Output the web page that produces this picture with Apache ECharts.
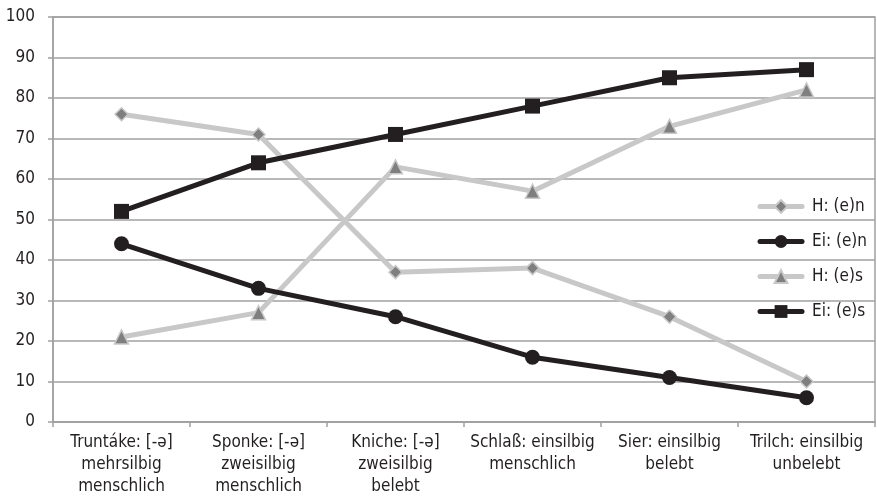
<!DOCTYPE html>
<html><head><meta charset="utf-8">
<script src="https://cdn.jsdelivr.net/npm/echarts@6/dist/echarts.min.js"></script>
<style>html,body{margin:0;padding:0;background:#fff}#c{width:877px;height:500px}</style>
</head><body><div id="c"></div>
<script>
const categories = [
  "Truntáke: [-ə]\nmehrsilbig\nmenschlich",
  "Sponke: [-ə]\nzweisilbig\nmenschlich",
  "Kniche: [-ə]\nzweisilbig\nbelebt",
  "Schlaß: einsilbig\nmenschlich",
  "Sier: einsilbig\nbelebt",
  "Trilch: einsilbig\nunbelebt"
];
const yTicks = [0,10,20,30,40,50,60,70,80,90,100];
const hEn = [76, 71, 37, 38, 26, 10];
const eiEn = [44, 33, 26, 16, 11, 6];
const hEs = [21, 27, 63, 57, 73, 82];
const eiEs = [52, 64, 71, 78, 85, 87];
const names = ["H: (e)n", "Ei: (e)n", "H: (e)s", "Ei: (e)s"];

const FONT = "DejaVu Sans Condensed";
const light = "#c8c8c8", dark = "#231f20", markGray = "#7f7f7f";
function lightSeries(name, data, symbol, size){
  return {name, type:'line', data, symbol, symbolSize:size, z:2,
    lineStyle:{color:light, width:5}, itemStyle:{color:markGray, borderColor:light, borderWidth:1.5},
    emphasis:{disabled:true}};
}
function darkSeries(name, data, symbol, size){
  return {name, type:'line', data, symbol, symbolSize:size, z:3,
    lineStyle:{color:dark, width:5}, itemStyle:{color:dark, borderWidth:0},
    emphasis:{disabled:true}};
}
const chart = echarts.init(document.getElementById('c'), null, {renderer:'canvas'});
chart.setOption({
  animation:false,
  textStyle:{fontFamily:FONT},
  grid:{left:53, right:2, top:17, bottom:78, show:true, borderColor:'#a0a0a0', borderWidth:1.5},
  legend:{orient:'vertical', right:5, top:193, itemGap:18, itemWidth:42, itemHeight:16,
    lineStyle:{width:5, cap:'round'},
    data:names, textStyle:{fontFamily:FONT, fontSize:17, color:'#231f20', padding:[0,0,0,5]}},
  xAxis:{type:'category', data:categories, boundaryGap:true,
    axisLine:{lineStyle:{color:'#a0a0a0', width:1.5}},
    axisTick:{show:true, length:5, alignWithLabel:false, lineStyle:{color:'#a0a0a0', width:1.5}},
    axisLabel:{color:'#231f20', fontSize:17, lineHeight:22, margin:10, interval:0, fontFamily:FONT}},
  yAxis:{type:'value', min:yTicks[0], max:yTicks[yTicks.length-1], interval:10,
    axisLine:{show:true, lineStyle:{color:'#a0a0a0', width:1.5}},
    axisTick:{show:true, length:5, lineStyle:{color:'#a0a0a0', width:1.5}},
    splitLine:{lineStyle:{color:'#a0a0a0', width:1.5}},
    axisLabel:{color:'#231f20', fontSize:17, margin:18, fontFamily:FONT}},
  series:[
    lightSeries(names[0], hEn, 'diamond', 13),
    darkSeries(names[1], eiEn, 'circle', 15),
    lightSeries(names[2], hEs, 'triangle', 14),
    darkSeries(names[3], eiEs, 'rect', 15)
  ]
});
</script></body></html>
